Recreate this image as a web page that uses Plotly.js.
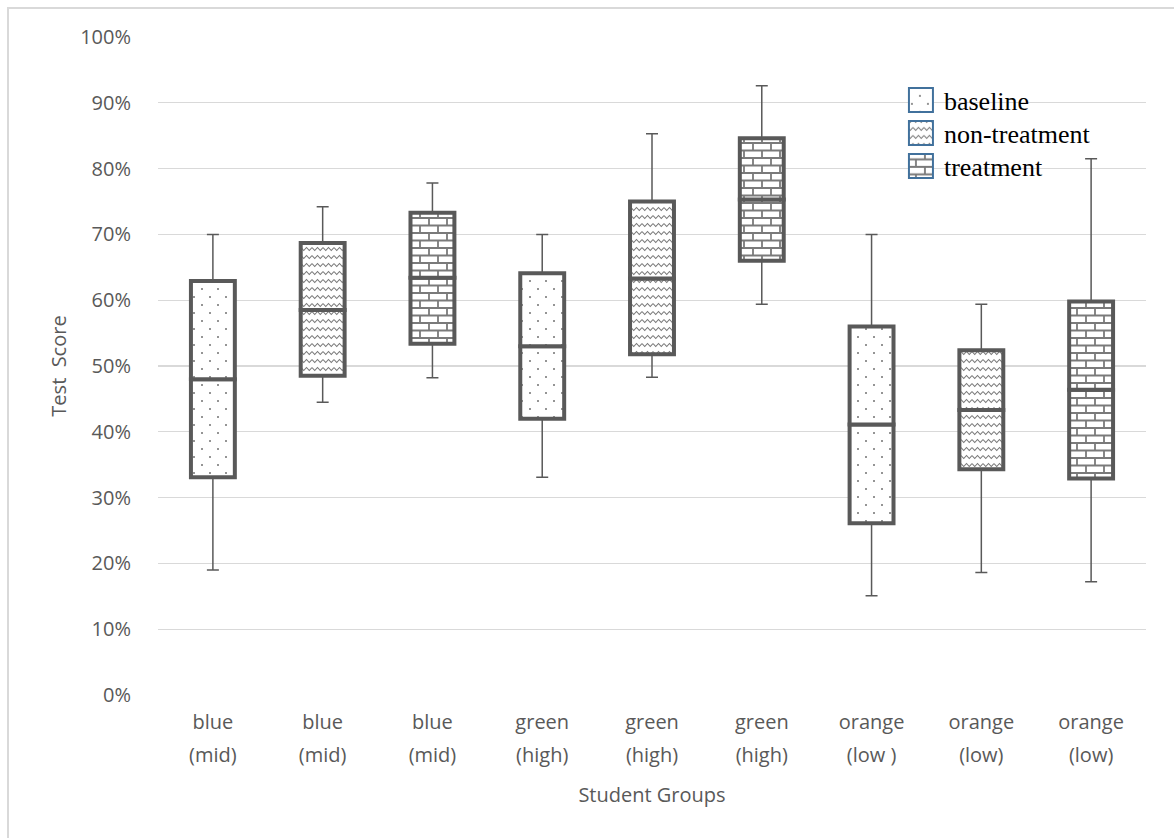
<!DOCTYPE html>
<html>
<head>
<meta charset="utf-8">
<script src="https://cdn.plot.ly/plotly-3.0.1.min.js"></script>
<style>
  html, body { margin: 0; padding: 0; background: #fff; }
  #frame { position: absolute; left: 7px; top: 7px; width: 1167px; height: 831px;
           border-left: 2px solid #d9d9d9; border-top: 2px solid #d9d9d9; box-sizing: border-box; }
  #chart { position: absolute; left: 0; top: 0; width: 1174px; height: 838px; }
</style>
</head>
<body>
<div id="frame"></div>
<div id="chart"></div>
<script>
// ---- data (fractions of 1) ----
const tickLine1 = ["blue", "blue", "blue", "green", "green", "green", "orange", "orange", "orange"];
const tickLine2 = ["(mid)", "(mid)", "(mid)", "(high)", "(high)", "(high)", "(low )", "(low)", "(low)"];
const seriesNames = ["baseline", "non-treatment", "treatment"];
// positions on the x axis for each series
const xBaseline = [0, 3, 6];
const xNonTreatment = [1, 4, 7];
const xTreatment = [2, 5, 8];
// five-number summaries per series: [blue, green, orange]
const minBaseline = [0.190, 0.331, 0.151];
const q1Baseline  = [0.331, 0.420, 0.261];
const medBaseline = [0.480, 0.530, 0.411];
const q3Baseline  = [0.629, 0.641, 0.560];
const maxBaseline = [0.700, 0.700, 0.700];

const minNonTreatment = [0.445, 0.483, 0.186];
const q1NonTreatment  = [0.485, 0.518, 0.343];
const medNonTreatment = [0.585, 0.633, 0.433];
const q3NonTreatment  = [0.687, 0.750, 0.524];
const maxNonTreatment = [0.742, 0.853, 0.594];

const minTreatment = [0.482, 0.594, 0.172];
const q1Treatment  = [0.534, 0.660, 0.329];
const medTreatment = [0.634, 0.753, 0.464];
const q3Treatment  = [0.733, 0.846, 0.598];
const maxTreatment = [0.778, 0.926, 0.815];

const yTicks = [0, 0.1, 0.2, 0.3, 0.4, 0.5, 0.6, 0.7, 0.8, 0.9, 1.0];
const xTicks = [0, 1, 2, 3, 4, 5, 6, 7, 8];

// ---- styling ----
const boxLine = "#595959";
const patterns = [
  {shape: ".", size: 12, solidity: 0.03, fgcolor: "#666", bgcolor: "#fff", fillmode: "replace"},
  {shape: "x", size: 8, solidity: 0.15, fgcolor: "#7f7f7f", bgcolor: "#fff", fillmode: "replace"},
  {shape: "+", size: 10, solidity: 0.18, fgcolor: "#7f7f7f", bgcolor: "#fff", fillmode: "replace"}
];
// custom tiles drawn into the pattern defs after rendering (dots, waves, bricks)
const tiles = [
  {w: 16, h: 16, svg: '<rect width="16" height="16" fill="#fff"/>' +
     '<rect x="3.2" y="3.2" width="1.6" height="1.6" fill="#5a5a5a"/>' +
     '<rect x="11.2" y="11.2" width="1.6" height="1.6" fill="#5a5a5a"/>'},
  {w: 11, h: 8, svg: '<rect width="11" height="8" fill="#fff"/>' +
     '<path d="M0,2.5 L2.75,5.5 L5.5,2.5 L8.25,5.5 L11,2.5" fill="none" stroke="#777" stroke-width="1.1"/>'},
  {w: 18, h: 15, svg: '<rect width="18" height="15" fill="#fff"/>' +
     '<path d="M0,1 H18 M0,8.5 H18 M1,1 V8.5 M10,8.5 V15" fill="none" stroke="#7a7a7a" stroke-width="1.8"/>'}
];
const BW = 0.4;

function diff(a, b) { return a.map((v, i) => v - b[i]); }
function zeros(a) { return a.map(() => 0); }

const groups = [
  {x: xBaseline, mn: minBaseline, q1: q1Baseline, md: medBaseline, q3: q3Baseline, mx: maxBaseline},
  {x: xNonTreatment, mn: minNonTreatment, q1: q1NonTreatment, md: medNonTreatment, q3: q3NonTreatment, mx: maxNonTreatment},
  {x: xTreatment, mn: minTreatment, q1: q1Treatment, md: medTreatment, q3: q3Treatment, mx: maxTreatment}
];

const traces = [];
groups.forEach((g) => {
  traces.push({
    type: "scatter", mode: "markers", x: g.x, y: g.q3, marker: {size: 0.1, color: boxLine},
    error_y: {type: "data", symmetric: false, array: diff(g.mx, g.q3), arrayminus: zeros(g.x),
              color: boxLine, thickness: 1.5, width: 6},
    showlegend: false, hoverinfo: "skip"
  });
  traces.push({
    type: "scatter", mode: "markers", x: g.x, y: g.q1, marker: {size: 0.1, color: boxLine},
    error_y: {type: "data", symmetric: false, array: zeros(g.x), arrayminus: diff(g.q1, g.mn),
              color: boxLine, thickness: 1.5, width: 6},
    showlegend: false, hoverinfo: "skip"
  });
});
groups.forEach((g, k) => {
  traces.push({
    type: "bar", x: g.x, base: g.q1, y: diff(g.md, g.q1), width: BW,
    marker: {color: "#fff", pattern: patterns[k], line: {color: boxLine, width: 4}},
    showlegend: false, hoverinfo: "skip"
  });
  traces.push({
    type: "bar", x: g.x, base: g.md, y: diff(g.q3, g.md), width: BW,
    marker: {color: "#fff", pattern: patterns[k], line: {color: boxLine, width: 4}},
    showlegend: false, hoverinfo: "skip"
  });
});
seriesNames.forEach((name, k) => {
  traces.push({
    type: "bar", x: [null], y: [null], name: name,
    marker: {color: "#fff", pattern: patterns[k], line: {color: "#41719c", width: 2}},
    showlegend: true, hoverinfo: "skip"
  });
});
// empty trace so the second-line tick axis is drawn
traces.push({type: "scatter", mode: "markers", x: xTicks, y: xTicks.map(() => null),
             xaxis: "x2", yaxis: "y", showlegend: false, hoverinfo: "skip"});

const axisFont = {family: "'Liberation Sans Narrow', 'Open Sans', sans-serif", size: 20, color: "#595959"};

const layout = {
  width: 1174, height: 838,
  paper_bgcolor: "rgba(0,0,0,0)", plot_bgcolor: "rgba(0,0,0,0)",
  margin: {l: 158, r: 28, t: 37, b: 143},
  barmode: "overlay",
  showlegend: true,
  legend: {
    x: 0.755, y: 0.94, xanchor: "left", yanchor: "top",
    bgcolor: "rgba(0,0,0,0)",
    font: {family: "'Liberation Serif', 'Times New Roman', serif", size: 26, color: "#000"},
    tracegroupgap: 0, traceorder: "normal", itemwidth: 30
  },
  xaxis: {
    range: [-0.5, 8.5], tickmode: "array", tickvals: xTicks, ticktext: tickLine1,
    tickfont: axisFont, ticks: "outside", ticklen: 9, tickcolor: "rgba(0,0,0,0)",
    showgrid: false, zeroline: false, showline: false
  },
  xaxis2: {
    overlaying: "x", anchor: "y", side: "bottom",
    range: [-0.5, 8.5], tickmode: "array", tickvals: xTicks, ticktext: tickLine2,
    tickfont: axisFont, ticks: "outside", ticklen: 42, tickcolor: "rgba(0,0,0,0)",
    showgrid: false, zeroline: false, showline: false,
    title: {text: "Student Groups", font: axisFont, standoff: 20}
  },
  yaxis: {
    range: [0, 1.0], tickmode: "array", tickvals: yTicks, tickformat: ".0%",
    tickfont: {family: "'Open Sans', sans-serif", size: 20, color: "#595959"},
    ticks: "outside", ticklen: 22, tickcolor: "rgba(0,0,0,0)",
    showgrid: true, gridcolor: "#d9d9d9", gridwidth: 1.3, zeroline: false, showline: false,
    title: {text: "Test\u00a0 Score", font: axisFont, standoff: 8}
  }
};

function patternIdOf(el) {
  const s = (el.getAttribute("style") || "") + " " + (el.getAttribute("fill") || "");
  const m = s.match(/url\(["']?#([^"')]+)["']?\)/);
  return m ? m[1] : null;
}
function applyTile(id, k) {
  const p = document.getElementById(id);
  if (!p) return;
  const t = tiles[k];
  p.setAttribute("width", t.w);
  p.setAttribute("height", t.h);
  p.removeAttribute("patternTransform");
  p.innerHTML = t.svg;
}

Plotly.newPlot("chart", traces, layout, {displayModeBar: false, staticPlot: true}).then(() => {
  const gd = document.getElementById("chart");
  const barTraces = gd.querySelectorAll(".barlayer .trace");
  barTraces.forEach((tr, i) => {
    const k = Math.floor(i / 2);
    if (k > 2) return;
    tr.querySelectorAll("path").forEach(p => { const id = patternIdOf(p); if (id) applyTile(id, k); });
  });
  const items = gd.querySelectorAll(".legend .traces");
  let y0 = null;
  items.forEach((it, k) => {
    const tf = it.getAttribute("transform") || "";
    const m = tf.match(/translate\(\s*([-\d.]+)[ ,]+([-\d.]+)\s*\)/);
    if (m) {
      if (y0 === null) y0 = parseFloat(m[2]);
      it.setAttribute("transform", "translate(" + m[1] + "," + (y0 + k * 33) + ")");
    }
    it.querySelectorAll(".legendpoints path").forEach(p => {
      p.setAttribute("d", "M9,12H-15V-12H9Z");
      const id = patternIdOf(p);
      if (id) applyTile(id, k);
    });
  });
});
</script>
</body>
</html>
